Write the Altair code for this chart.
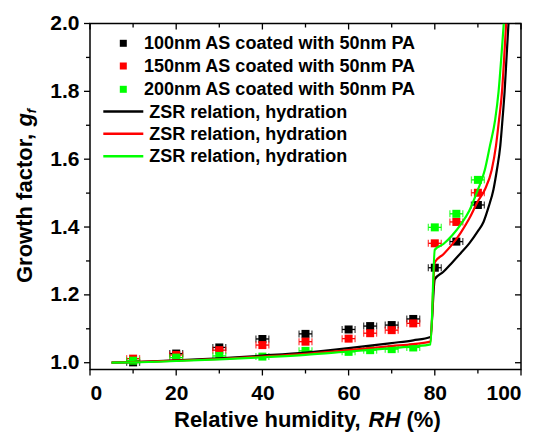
import altair as alt
import pandas as pd

# ---------------- data ----------------
RH_pts = [10, 20, 30, 40, 50, 60, 65, 70, 75, 80, 85, 90]
gf_100 = [1.001, 1.027, 1.045, 1.070, 1.085, 1.098, 1.108, 1.111, 1.129, 1.280, 1.357, 1.465]
gf_150 = [1.012, 1.023, 1.037, 1.052, 1.062, 1.071, 1.087, 1.096, 1.116, 1.352, 1.415, 1.501]
gf_200 = [1.006, 1.015, 1.020, 1.018, 1.035, 1.032, 1.037, 1.040, 1.045, 1.399, 1.439, 1.539]
rh_err = 1.5

zsr_rh_100 = [5, 10, 20, 30, 40, 50, 60, 70, 75, 79, 80, 82, 84, 86, 88, 90, 91.3, 92.5, 93.6, 94.4, 95.2, 95.7, 96.2, 96.7, 97.1]
zsr_gf_100 = [1.000, 1.002, 1.007, 1.013, 1.021, 1.030, 1.043, 1.058, 1.066, 1.076, 1.246, 1.268, 1.295, 1.323, 1.352, 1.388, 1.415, 1.46, 1.51, 1.568, 1.64, 1.716, 1.80, 1.912, 2.0]
zsr_rh_150 = [5, 10, 20, 30, 40, 50, 60, 70, 75, 79, 80, 82, 84, 86, 88, 90, 91.6, 93.2, 94.2, 94.9, 95.6, 96.1, 96.55]
zsr_gf_150 = [1.000, 1.002, 1.006, 1.011, 1.018, 1.026, 1.037, 1.049, 1.055, 1.062, 1.296, 1.32, 1.348, 1.383, 1.425, 1.476, 1.51, 1.568, 1.64, 1.716, 1.80, 1.90, 2.0]
zsr_rh_200 = [5, 10, 20, 30, 40, 50, 60, 70, 75, 79, 80, 82, 84, 86, 88, 90, 91.6, 92.8, 94.0, 94.8, 95.5, 96.0]
zsr_gf_200 = [1.000, 1.001, 1.005, 1.010, 1.016, 1.023, 1.033, 1.043, 1.048, 1.054, 1.333, 1.35, 1.375, 1.407, 1.448, 1.51, 1.568, 1.64, 1.716, 1.80, 1.912, 2.0]

series_names = ["100nm AS coated with 50nm PA", "150nm AS coated with 50nm PA", "200nm AS coated with 50nm PA"]
line_names = ["ZSR relation, hydration"] * 3
colors = ["#000000", "#ff0000", "#00ff00"]

x_major = [0, 20, 40, 60, 80, 100]
x_minor = [10, 30, 50, 70, 90]
y_major = [1.0, 1.2, 1.4, 1.6, 1.8, 2.0]
y_minor = [1.1, 1.3, 1.5, 1.7, 1.9]

# ---------------- layout ----------------
W, H = 431, 346
FONT = "Liberation Sans"
xs = alt.Scale(domain=[0, 100], nice=False, zero=False)
ys = alt.Scale(domain=[0.98, 2.0], nice=False, zero=False)

layers = []

# axes (labels only)
axis_base = alt.Chart(pd.DataFrame({"RH": [0], "gf": [1.0]})).mark_point(opacity=0).encode(
    x=alt.X("RH:Q", scale=xs, axis=alt.Axis(values=x_major, title=None, ticks=False, domain=False,
                                             grid=False, labelPadding=13, labelFontSize=21,
                                             labelFont=FONT, labelFontWeight="bold", labelColor="black")),
    y=alt.Y("gf:Q", scale=ys, axis=alt.Axis(values=y_major, format=".1f", title=None, ticks=False,
                                             domain=False, grid=False, labelPadding=11, labelFontSize=21,
                                             labelFont=FONT, labelFontWeight="bold", labelColor="black")),
)
layers.append(axis_base)

# tick marks drawn through scales
xt = pd.DataFrame({"v": x_major + x_minor, "len": [6] * len(x_major) + [4] * len(x_minor)})
yt = pd.DataFrame({"v": y_major + y_minor, "len": [6] * len(y_major) + [4] * len(y_minor)})
for df, L in [(xt[xt.len == 6], 6), (xt[xt.len == 4], 4)]:
    layers.append(alt.Chart(df).mark_rule(color="black", strokeWidth=1.3).encode(
        x=alt.X("v:Q", scale=xs), y=alt.value(H), y2=alt.value(H + L)))
    layers.append(alt.Chart(df).mark_rule(color="black", strokeWidth=1.3).encode(
        x=alt.X("v:Q", scale=xs), y=alt.value(0), y2=alt.value(L)))
for df, L in [(yt[yt.len == 6], 6), (yt[yt.len == 4], 4)]:
    layers.append(alt.Chart(df).mark_rule(color="black", strokeWidth=1.3).encode(
        y=alt.Y("v:Q", scale=ys), x=alt.value(0), x2=alt.value(-L)))
    layers.append(alt.Chart(df).mark_rule(color="black", strokeWidth=1.3).encode(
        y=alt.Y("v:Q", scale=ys), x=alt.value(W), x2=alt.value(W - L)))

# data points with horizontal error bars
for name, gf, col in zip(series_names, [gf_100, gf_150, gf_200], colors):
    df = pd.DataFrame({"RH": RH_pts, "gf": gf})
    df["lo"] = df["RH"] - rh_err
    df["hi"] = df["RH"] + rh_err
    layers.append(alt.Chart(df).mark_rule(color=col, strokeWidth=1.3).encode(
        x=alt.X("lo:Q", scale=xs), x2="hi:Q", y=alt.Y("gf:Q", scale=ys)))
    for c in ["lo", "hi"]:
        layers.append(alt.Chart(df).mark_tick(color=col, orient="vertical", size=7, thickness=1.3).encode(
            x=alt.X(f"{c}:Q", scale=xs), y=alt.Y("gf:Q", scale=ys)))
    layers.append(alt.Chart(df).mark_square(color=col, size=64, opacity=1).encode(
        x=alt.X("RH:Q", scale=xs), y=alt.Y("gf:Q", scale=ys)))

# ZSR curves
for rh, gf, col in zip([zsr_rh_100, zsr_rh_150, zsr_rh_200], [zsr_gf_100, zsr_gf_150, zsr_gf_200], colors):
    df = pd.DataFrame({"RH": rh, "gf": gf})
    layers.append(alt.Chart(df).mark_line(color=col, strokeWidth=2.2, interpolate="monotone", clip=True).encode(
        x=alt.X("RH:Q", scale=xs), y=alt.Y("gf:Q", scale=ys)))

# legend (manual, inside plot)
leg_y = [19.8, 42.5, 65.8, 88.0, 110.3, 132.8]
for i, (name, col) in enumerate(zip(series_names, colors)):
    d = pd.DataFrame({"t": [name]})
    layers.append(alt.Chart(d).mark_square(color=col, size=49, opacity=1).encode(
        x=alt.value(33.3), y=alt.value(leg_y[i])))
    layers.append(alt.Chart(d).mark_text(font=FONT, fontWeight="bold", fontSize=18, align="left",
                                         baseline="middle", color="black").encode(
        x=alt.value(54), y=alt.value(leg_y[i] + 1), text="t:N"))
for i, (name, col) in enumerate(zip(line_names, colors)):
    yy = leg_y[3 + i]
    d = pd.DataFrame({"t": [name]})
    layers.append(alt.Chart(d).mark_rule(color=col, strokeWidth=2.5).encode(
        x=alt.value(13.3), x2=alt.value(53.3), y=alt.value(yy)))
    layers.append(alt.Chart(d).mark_text(font=FONT, fontWeight="bold", fontSize=18, align="left",
                                         baseline="middle", color="black").encode(
        x=alt.value(59.3), y=alt.value(yy + 1), text="t:N"))

# axis titles with italic parts
def txt(s, x, y, size=22, style="normal", align="left", angle=0, baseline="alphabetic"):
    return alt.Chart(pd.DataFrame({"t": [s]})).mark_text(
        font=FONT, fontWeight="bold", fontSize=size, fontStyle=style, align=align,
        baseline=baseline, angle=angle, color="black").encode(
        x=alt.value(x), y=alt.value(y), text="t:N")

xt0 = 84.0
layers.append(txt("Relative humidity,", xt0, 403))
layers.append(txt("RH", xt0 + 194.5, 403, style="italic"))
layers.append(txt("(%)", xt0 + 194.5 + 32 + 6, 403))

yb = -58.5
layers.append(txt("Growth factor,", yb, 259.5, angle=270))
layers.append(txt("g", yb, 259.5 - 150.3 - 6.1, style="italic", angle=270))
layers.append(txt("f", yb + 4, 259.5 - 150.3 - 6.1 - 13.4, size=13, style="italic", angle=270))

chart = alt.layer(*layers).properties(
    width=W, height=H,
    autosize=alt.AutoSizeParams(type="none"),
    padding={"left": 82, "top": 15.5, "right": 14, "bottom": 70},
    background="white",
).configure_view(stroke="black", strokeWidth=1.5)

chart.save("out.html", embed_options={"renderer": "svg", "actions": False})
